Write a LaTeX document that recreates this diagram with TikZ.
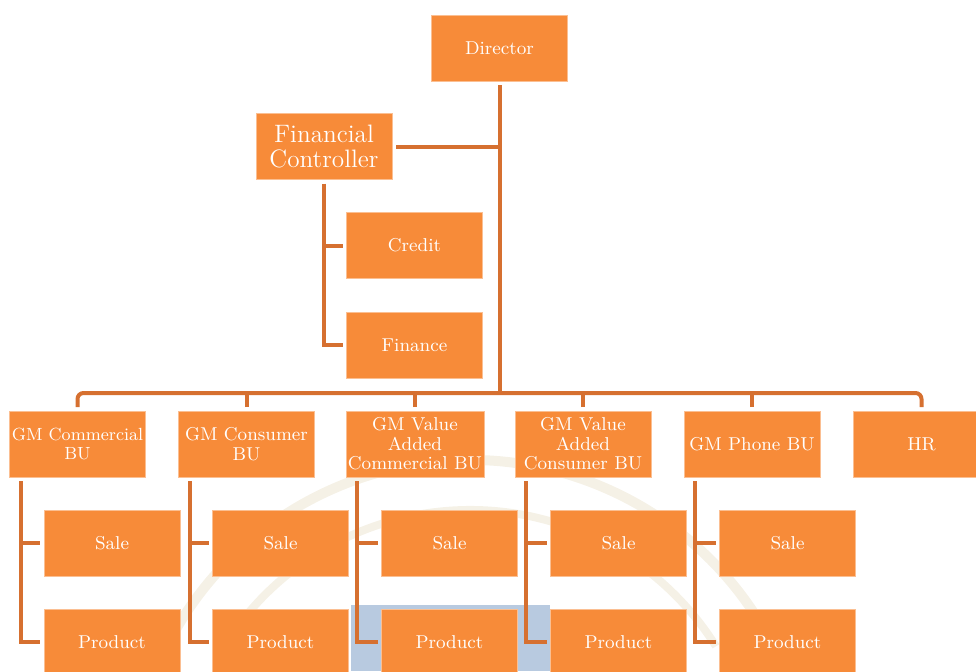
\documentclass[tikz,border=0pt]{standalone}
\usetikzlibrary{positioning}
\definecolor{boxfill}{RGB}{247,139,57}
\definecolor{linkcol}{RGB}{214,112,48}
\definecolor{sealcol}{RGB}{232,224,200}
\definecolor{bluebg}{RGB}{184,202,224}

\begin{document}
\begin{tikzpicture}[x=0.5pt,y=-0.5pt]
\tikzset{every node/.style={fill=boxfill,draw=boxfill!55!white,line width=0.4pt,
text=white,minimum width=68pt,minimum height=33pt,inner sep=1pt,outer sep=2pt,
align=center,font=\fontsize{9.3}{9.8}\selectfont},
link/.style={draw=linkcol,line width=2pt}}
\useasboundingbox (0,0) rectangle (976,671);

% faint seal behind the lower boxes
\fill[bluebg] (351,605) rectangle (550,671);
\draw[sealcol,line width=5pt,opacity=0.45] (470,800) ++(205:340) arc (205:335:340);
\draw[sealcol,line width=4pt,opacity=0.45] (470,800) ++(212:290) arc (212:328:290);

\node (director) at (499.5,48) {Director};
\node[font=\fontsize{12.6}{12.5}\selectfont] (controller) at (324,146.5) {Financial\\Controller};
\node (credit) at (414.5,245.5) {Credit};
\node (finance) at (414.5,345) {Finance};

\node[font=\fontsize{8.8}{9.8}\selectfont,inner xsep=0pt] (gm-commercial) at (77.5,444) {GM Commercial\\BU};
\node (gm-consumer) at (246.5,444) {GM Consumer\\BU};
\node (gm-va-commercial) at (415,444) {GM Value\\Added\\Commercial BU};
\node (gm-va-consumer) at (583,444) {GM Value\\Added\\Consumer BU};
\node (gm-phone) at (752,444) {GM Phone BU};
\node (hr) at (921.5,444) {HR};

\node (sale-commercial) at (112,543) {Sale};
\node (product-commercial) at (112,642) {Product};
\node (sale-consumer) at (280.5,543) {Sale};
\node (product-consumer) at (280.5,642) {Product};
\node (sale-va-commercial) at (449.5,543) {Sale};
\node (product-va-commercial) at (449.5,642) {Product};
\node (sale-va-consumer) at (618.5,543) {Sale};
\node (product-va-consumer) at (618.5,642) {Product};
\node (sale-phone) at (787.5,543) {Sale};
\node (product-phone) at (787.5,642) {Product};

\coordinate (bus) at (499.5,393);

\path[link]
(director.south) -- (bus)
(controller.east) -- (controller.east -| director.south)
(controller.south) |- (credit.west)
(controller.south) |- (finance.west);

\path[link,rounded corners=3pt]
(gm-commercial.north) -- (gm-commercial.north |- bus) -- (hr.north |- bus) -- (hr.north);
\path[link]
(gm-consumer.north) -- (gm-consumer.north |- bus)
(gm-va-commercial.north) -- (gm-va-commercial.north |- bus)
(gm-va-consumer.north) -- (gm-va-consumer.north |- bus)
(gm-phone.north) -- (gm-phone.north |- bus);

\path[link]
([xshift=7.5pt]gm-commercial.south west) |- (sale-commercial.west)
([xshift=7.5pt]gm-commercial.south west) |- (product-commercial.west)
([xshift=7.5pt]gm-consumer.south west) |- (sale-consumer.west)
([xshift=7.5pt]gm-consumer.south west) |- (product-consumer.west)
([xshift=7.5pt]gm-va-commercial.south west) |- (sale-va-commercial.west)
([xshift=7.5pt]gm-va-commercial.south west) |- (product-va-commercial.west)
([xshift=7.5pt]gm-va-consumer.south west) |- (sale-va-consumer.west)
([xshift=7.5pt]gm-va-consumer.south west) |- (product-va-consumer.west)
([xshift=7.5pt]gm-phone.south west) |- (sale-phone.west)
([xshift=7.5pt]gm-phone.south west) |- (product-phone.west);
\end{tikzpicture}
\end{document}
